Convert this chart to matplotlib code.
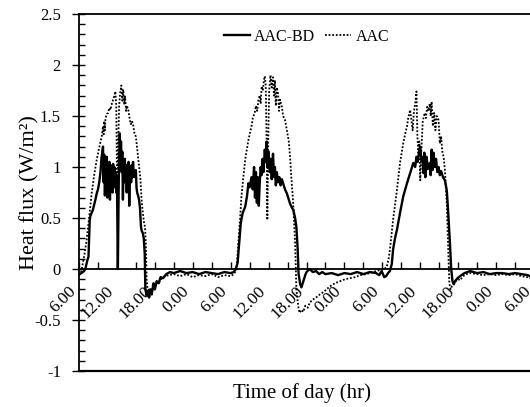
import matplotlib
matplotlib.use("Agg")
import matplotlib.pyplot as plt
from matplotlib.ticker import MultipleLocator, FixedLocator, FixedFormatter

# hours after 6:00 on the first day
bd_hours = [0.0, 0.4, 0.8, 1.0, 1.3, 1.5, 1.7, 1.8, 2.0, 2.2, 2.4, 2.6, 2.8, 3.0, 3.2, 3.4,
            3.55, 3.7, 3.8, 3.9, 4.0, 4.1, 4.2, 4.3, 4.4, 4.5, 4.6, 4.7, 4.8, 4.9, 5.0, 5.1,
            5.2, 5.3, 5.4, 5.5, 5.6, 5.7, 5.8, 5.9, 6.0, 6.15, 6.3, 6.45, 6.55, 6.65, 6.75,
            6.85, 6.95, 7.05, 7.15, 7.25, 7.35, 7.45, 7.55, 7.65, 7.75, 7.85, 7.95, 8.05,
            8.15, 8.25, 8.35, 8.45, 8.55, 8.65, 8.8, 9.0, 9.1, 9.2, 9.35, 9.5, 9.65, 9.8,
            9.9, 10.1, 10.25, 10.4, 10.5, 10.7, 10.9, 11.1, 11.3, 11.5, 11.8, 12.0, 12.3,
            12.6, 12.9, 13.3, 13.8, 14.4, 15, 16, 17, 18, 19, 20, 21, 22, 23, 24, 24.5, 24.8,
            25.1, 25.4, 25.6, 25.9, 26.3, 26.6, 26.8, 27.0, 27.3, 27.5, 27.7, 27.85, 28.0,
            28.15, 28.3, 28.45, 28.6, 28.75, 28.9, 29.05, 29.2, 29.4, 29.55, 29.7, 29.85,
            30.0, 30.2, 30.35, 30.5, 30.7, 30.85, 31.0, 31.15, 31.3, 31.5, 31.7, 31.9, 32.1,
            32.3, 32.6, 32.9, 33.2, 33.4, 33.7, 33.9, 34.2, 34.4, 34.6, 34.75, 35.0, 35.2,
            35.5, 35.8, 36.0, 36.5, 37, 37.5, 38, 38.5, 39, 40, 41, 42, 43, 44, 45, 46, 47,
            47.5, 47.9, 48.3, 48.6, 48.9, 49.2, 49.5, 49.7, 50.0, 50.3, 50.8, 51.3, 51.9,
            52.4, 52.9, 53.2, 53.4, 53.6, 53.8, 54.0, 54.15, 54.3, 54.5, 54.65, 54.8, 55.0,
            55.2, 55.5, 55.65, 55.8, 55.95, 56.1, 56.3, 56.5, 56.7, 56.9, 57.1, 57.3, 57.6,
            57.9, 58.2, 58.4, 58.7, 58.9, 59.1, 59.3, 59.5, 59.9, 60.3, 61.0, 61.9, 63, 64,
            65, 66, 67, 68, 69, 70, 71, 72]
bd_flux = [-0.05, -0.04, -0.02, 0.0, 0.08, 0.12, 0.48, 0.52, 0.55, 0.58, 0.63, 0.68, 0.74,
           0.78, 0.85, 0.95, 1.08, 1.15, 1.2, 0.85, 1.12, 0.72, 1.05, 0.95, 1.1, 0.70, 1.0,
           0.85, 1.05, 0.68, 1.02, 0.88, 1.0, 0.75, 1.03, 0.9, 1.0, 0.8, 0.95, 0.75, 0.9, 0.0,
           0.9, 1.33, 1.1, 1.25, 0.95, 1.15, 0.68, 1.05, 0.85, 1.08, 0.9, 1.02, 0.75, 1.0,
           0.9, 1.05, 0.62, 0.95, 1.0, 0.85, 1.02, 0.9, 1.05, 0.95, 0.9, 0.97, 0.8, 0.75,
           0.72, 0.68, 0.6, 0.42, 0.38, 0.35, 0.3, 0.15, -0.2, -0.26, -0.22, -0.28, -0.2,
           -0.25, -0.14, -0.2, -0.12, -0.14, -0.08, -0.09, -0.05, -0.03, -0.04, -0.02, -0.04,
           -0.03, -0.05, -0.03, -0.04, -0.05, -0.03, -0.04, -0.03, 0.0,
           0.06, 0.3, 0.45, 0.55, 0.61, 0.72, 0.84, 0.8, 0.9, 0.78, 1.0, 0.7, 0.95, 0.65,
           0.9, 0.62, 0.85, 1.0, 0.92, 1.08, 0.95, 1.17, 1.05, 1.25, 1.0, 1.15, 0.95, 1.08,
           0.88, 1.13, 0.9, 1.0, 0.82, 0.95, 0.85, 0.9, 0.82, 0.88, 0.84, 0.78, 0.74, 0.68,
           0.64, 0.6, 0.58, 0.5, 0.41, 0.2, -0.05, -0.15, -0.18, -0.12, -0.06, -0.03, 0.0,
           -0.03, -0.02, -0.05, -0.03, -0.05, -0.04, -0.06, -0.04, -0.05, -0.03, -0.05, -0.03,
           -0.04, -0.06, -0.02, -0.08, -0.07, -0.04, -0.02, 0.05, 0.19, 0.3, 0.38, 0.55, 0.71,
           0.84, 0.94, 1.04, 1.0, 1.1, 1.05, 1.15, 1.2, 1.07, 1.1, 0.94, 1.14, 0.9, 1.1, 0.98,
           1.04, 0.92, 1.17, 0.97, 1.14, 1.0, 1.08, 0.95, 1.0, 0.92, 0.96, 0.9, 0.87, 0.77,
           0.58, 0.25, 0.0, -0.12, -0.15, -0.12, -0.09, -0.07, -0.04, -0.02, -0.04, -0.03,
           -0.05, -0.04, -0.04, -0.05, -0.04, -0.05, -0.06, -0.09]

aac_hours = [0.0, 0.3, 0.5, 0.8, 1.2, 1.6, 2.0, 2.4, 2.8, 3.1, 3.3, 3.6, 3.8, 3.9, 4.0, 4.1,
             4.2, 4.4, 4.6, 4.8, 5.0, 5.2, 5.4, 5.6, 5.75, 5.9, 6.05, 6.2, 6.35, 6.5, 6.7,
             6.85, 7.0, 7.15, 7.3, 7.45, 7.6, 7.8, 8.0, 8.2, 8.4, 8.6, 8.8, 9.0, 9.2, 9.4,
             9.55, 9.7, 9.9, 10.1, 10.3, 10.45, 10.6, 10.7, 10.9, 11.1, 11.4, 11.7, 12.0,
             12.3, 12.7, 13.1, 13.6, 14.2, 15, 16, 17, 18, 19, 20, 21, 22, 23, 24, 24.5, 24.8,
             24.95, 25.2, 25.5, 25.7, 26.0, 26.3, 26.5, 26.8, 27.0, 27.3, 27.5, 27.8, 28.0,
             28.2, 28.4, 28.6, 28.75, 28.9, 29.1, 29.25, 29.4, 29.55, 29.7, 29.8, 29.95,
             30.1, 30.3, 30.5, 30.7, 30.85, 31.0, 31.15, 31.3, 31.5, 31.65, 31.8, 32.1, 32.3,
             32.6, 32.9, 33.2, 33.4, 33.6, 33.9, 34.2, 34.4, 34.7, 34.9, 35.2, 35.5, 35.8,
             36.2, 36.5, 37.0, 37.5, 38.1, 38.8, 39.7, 40.5, 41.3, 42.1, 42.9, 43.7, 44.5,
             45.5, 46.5, 47.6, 48.3, 48.7, 49.0, 49.2, 49.7, 50.3, 50.8, 51.3, 51.6, 51.9,
             52.1, 52.4, 52.6, 52.8, 53.0, 53.2, 53.4, 53.55, 53.7, 53.85, 54.0, 54.2, 54.4,
             54.7, 54.9, 55.1, 55.3, 55.5, 55.65, 55.8, 56.0, 56.2, 56.4, 56.6, 56.9, 57.1,
             57.3, 57.5, 57.7, 57.9, 58.2, 58.4, 58.6, 58.8, 59.0, 59.3, 59.6, 60.0, 60.3,
             60.8, 61.3, 61.9, 63, 64, 65, 66, 67, 68, 69, 70, 71, 72]
aac_flux = [-0.06, -0.04, 0.02, 0.12, 0.28, 0.5, 0.74, 0.92, 1.07, 1.16, 1.22, 1.3, 1.4,
            1.32, 1.45, 1.36, 1.48, 1.52, 1.53, 1.58, 1.56, 1.62, 1.66, 1.7, 1.74, 1.6, 0.65,
            1.2, 1.6, 1.72, 1.8, 1.65, 1.76, 1.62, 1.69, 1.55, 1.6, 1.56, 1.48, 1.42, 1.45,
            1.4, 1.32, 1.3, 1.18, 1.07, 0.98, 0.9, 0.68, 0.55, 0.45, 0.41, 0.2, -0.1, -0.24,
            -0.2, -0.25, -0.15, -0.18, -0.12, -0.13, -0.09, -0.07, -0.06, -0.05, -0.07, -0.05,
            -0.08, -0.06, -0.07, -0.05, -0.08, -0.06, -0.07, -0.05, -0.02,
            0.0, 0.25, 0.5, 0.71, 0.9, 1.07, 1.15, 1.26, 1.32, 1.4, 1.48, 1.53, 1.6, 1.55,
            1.66, 1.7, 1.62, 1.79, 1.75, 1.85, 1.89, 1.8, 1.2, 0.48, 1.3, 1.75, 1.9, 1.78,
            1.88, 1.7, 1.85, 1.6, 1.78, 1.72, 1.55, 1.66, 1.59, 1.5, 1.46, 1.36, 1.25, 1.1,
            0.9, 0.64, 0.25, -0.2, -0.37, -0.43, -0.4, -0.42, -0.36, -0.38, -0.33, -0.3,
            -0.28, -0.25, -0.22, -0.17, -0.14, -0.12, -0.1, -0.09, -0.08, -0.06, -0.05, -0.03,
            -0.01, 0.0, 0.02, 0.1, 0.19, 0.48, 0.77, 1.04, 1.23, 1.32, 1.4, 1.48, 1.56, 1.46,
            1.36, 1.55, 1.62, 1.74, 1.3, 1.14, 1.25, 0.87, 1.2, 1.45, 1.53, 1.48, 1.59, 1.55,
            1.62, 1.5, 1.64, 1.4, 1.53, 1.36, 1.5, 1.46, 1.23, 1.3, 1.15, 1.1, 0.97, 0.64,
            0.25, -0.14, -0.2, -0.17, -0.15, -0.12, -0.1, -0.11, -0.07, -0.05, -0.04, -0.05,
            -0.06, -0.05, -0.06, -0.05, -0.06, -0.05, -0.07, -0.08, -0.11]

x_tick_pos = [0, 6, 12, 18, 24, 30, 36, 42, 48, 54, 60, 66, 72]
x_tick_labels = ['6.00', '12.00', '18.00', '0.00', '6.00', '12.00', '18.00', '0.00',
                 '6.00', '12.00', '18.00', '0.00', '6.00']
y_ticks = [-1, -0.5, 0, 0.5, 1, 1.5, 2, 2.5]

plt.rcParams['font.family'] = ['Liberation Serif', 'DejaVu Serif']

fig = plt.figure(figsize=(5.30, 4.07), dpi=100)
ax = fig.add_axes([79 / 530, 1 - 371 / 407, 455 / 530, 357 / 407])

ax.plot(bd_hours, bd_flux, color='black', lw=1.7, label='AAC-BD')
ax.plot(aac_hours, aac_flux, color='black', lw=1.3, linestyle=(0, (1, 1)), label='AAC')

ax.set_xlim(0, 72)
ax.set_ylim(-1, 2.5)

# x axis sits on the zero line, frame line at the bottom
ax.spines['bottom'].set_position(('data', 0))
ax.spines['right'].set_visible(False)
for s in ['left', 'top', 'bottom']:
    ax.spines[s].set_linewidth(1.3)
ax.axhline(-1, color='black', lw=1.6, clip_on=False)

ax.xaxis.set_major_locator(FixedLocator(x_tick_pos))
ax.xaxis.set_major_formatter(FixedFormatter(x_tick_labels))
ax.xaxis.set_minor_locator(MultipleLocator(3))
ax.tick_params(axis='x', which='both', direction='in', length=5, width=1)
ax.tick_params(axis='x', which='major', labelsize=12.5, pad=10)
plt.setp(ax.get_xticklabels(), rotation=45, ha='right', va='top')

ax.set_yticks(y_ticks)
ax.set_yticklabels([f'{v:g}' for v in y_ticks])
ax.yaxis.set_minor_locator(MultipleLocator(0.1))
ax.yaxis.remove_overlapping_locs = False
ax.tick_params(axis='y', which='major', direction='out', length=5, width=1,
               labelsize=12, pad=8)
ax.tick_params(axis='y', which='minor', direction='in', length=4, width=1)

ax.set_ylabel('Heat flux (W/m²)', fontsize=16)
ax.yaxis.set_label_coords(-0.086, 0.5)
fig.text(0.57, 0.035, 'Time of day (hr)', fontsize=15, ha='center', va='center')

ax.legend(loc='center', bbox_to_anchor=(0.5, 0.936), ncol=2, frameon=False,
          fontsize=11.5, handlelength=1.6, handletextpad=0.3, columnspacing=0.6)

fig.savefig('out.png', dpi=100)
